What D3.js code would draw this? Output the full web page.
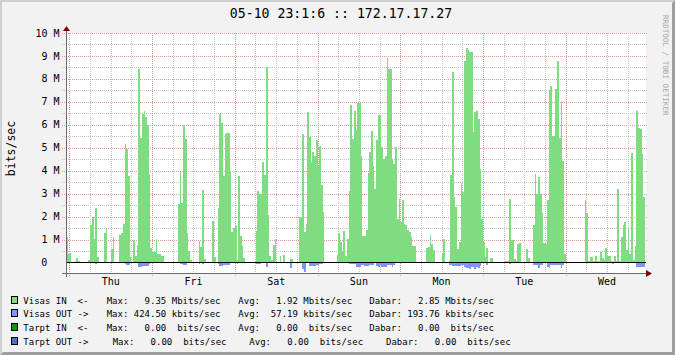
<!DOCTYPE html>
<html>
<head>
<meta charset="utf-8">
<script src="https://cdn.jsdelivr.net/npm/d3@7"></script>
<style>
  html, body { margin: 0; padding: 0; background: #f3f3f3; }
  svg { display: block; }
  text { font-family: "DejaVu Sans Mono", monospace; white-space: pre; }
</style>
</head>
<body>
<svg id="chart"></svg>
<script>
// Half-hour samples, Mbits/sec, starting Wed 23:01 one week before the title time.
const inValues = [
  1.09, 0.36, 0.41, 0, 0, 0.07, 0.2, 0.07, 0, 0, 0, 0,
  0, 0.1, 1.64, 2.0, 1.03, 2.37, 0.25, 0, 0, 0, 1.28, 1.5,
  0, 0, 0.58, 1.1, 0, 0, 0, 1.19, 1.28, 1.67, 5.16, 4.93,
  3.77, 0.23, 0, 0.97, 0.28, 0.76, 8.44, 5.42, 6.46, 6.6, 6.33, 5.98,
  3.8, 0.62, 0.44, 0.44, 1.02, 0.36, 0.36, 0.28, 0.28, 0, 0, 0,
  0, 0, 0, 0, 0, 2.54, 3.94, 2.59, 6.0, 5.37, 1.28, 0.52,
  0.09, 0, 0, 0, 0, 0.92, 0.67, 3.15, 0.15, 0, 0, 0,
  0, 1.82, 0.23, 0, 2.37, 6.46, 6.07, 3.76, 5.59, 5.64, 5.64, 3.97,
  1.32, 1.5, 1.58, 0.09, 3.75, 1.15, 0.7, 0.19, 0, 0, 0, 0.04,
  0, 0, 1.35, 3.1, 3.0, 3.0, 4.36, 3.8, 8.5, 2.08, 0.29, 0.09,
  0.75, 1.02, 0, 0, 0.26, 0, 0.32, 0, 0, 0, 0.15, 0.15,
  0, 0, 0, 2.0, 2.0, 5.59, 1.32, 1.67, 6.55, 5.46, 4.37, 4.8,
  4.63, 5.35, 4.24, 5.07, 3.36, 2.2, 0, 0, 0, 0, 0, 0,
  0, 0.32, 1.28, 0.89, 0.45, 1.37, 0.26, 1.02, 3.1, 6.86, 5.37, 6.58,
  5.77, 6.94, 6.94, 4.63, 1.15, 1.15, 1.41, 3.88, 4.8, 5.72, 4.2, 3.21,
  5.33, 6.42, 6.42, 5.03, 4.5, 4.63, 8.93, 8.42, 8.42, 4.5, 4.28, 5.03,
  1.89, 2.76, 1.76, 2.72, 1.67, 1.63, 1.41, 1.32, 1.1, 0.71, 0.71, 0,
  0, 0, 0, 0, 0, 0.62, 0.67, 1.19, 0.8, 0.54, 0, 0,
  0, 0, 0.36, 1.02, 0, 0, 0.06, 3.8, 8.3, 2.85, 2.41, 0.58,
  0.89, 3.46, 3.06, 8.77, 9.35, 9.25, 9.16, 9.16, 5.68, 6.55, 6.59, 6.25,
  4.07, 1.89, 0.89, 0.23, 0.62, 0, 0.19, 0.19, 0, 0, 0, 0,
  0, 0, 0, 0.06, 0.06, 2.76, 0.97, 0.97, 0.13, 0.06, 0.8, 0.84,
  0, 0, 0, 0.58, 0.19, 0, 0, 1.63, 3.85, 2.99, 3.72, 3.0,
  2.15, 0.85, 0.8, 2.72, 7.51, 7.68, 5.5, 5.5, 7.55, 8.77, 5.42, 6.99,
  4.42, 0.36, 0, 0, 0.04, 0, 0, 0, 0, 0, 0, 0,
  0, 2.72, 2.15, 0.06, 0.23, 0.23, 0.06, 0.28, 0.06, 0.06, 0.45, 0.19,
  0.1, 0.62, 0.28, 0.28, 0.06, 0.06, 0.28, 0.06, 3.2, 0.06, 1.1, 1.63,
  1.76, 0.54, 1.41, 0.36, 4.76, 0.1, 0.71, 6.59, 5.85, 5.81, 4.72, 2.85
];

// Outgoing traffic, Mbits/sec, drawn below zero.
const outValues = [
  0, 0, 0, 0, 0, 0, 0, 0, 0, 0, 0, 0,
  0, 0, 0, 0, 0, 0.05, 0, 0, 0, 0, 0, 0,
  0, 0, 0, 0, 0, 0, 0, 0, 0, 0, 0.05, 0.1,
  0.1, 0, 0, 0, 0, 0, 0.19, 0.19, 0.15, 0.15, 0.15, 0.15,
  0.06, 0, 0, 0, 0, 0, 0, 0, 0, 0, 0, 0,
  0, 0, 0, 0, 0, 0, 0.06, 0.06, 0.1, 0.1, 0, 0,
  0, 0, 0, 0, 0, 0.06, 0, 0.06, 0, 0, 0, 0,
  0, 0, 0, 0, 0.05, 0.15, 0.15, 0.09, 0.1, 0.1, 0.1, 0,
  0, 0, 0, 0.07, 0, 0, 0, 0, 0, 0, 0, 0,
  0, 0, 0.06, 0.06, 0.06, 0, 0, 0, 0.19, 0, 0, 0,
  0, 0, 0, 0, 0, 0, 0, 0, 0, 0, 0.23, 0,
  0, 0, 0, 0, 0, 0.28, 0.42, 0, 0, 0.15, 0.15, 0.15,
  0.15, 0.1, 0.1, 0.07, 0.07, 0, 0, 0, 0, 0, 0, 0,
  0, 0, 0, 0, 0, 0, 0, 0, 0.07, 0.07, 0.07, 0.07,
  0.22, 0.22, 0.22, 0.13, 0.13, 0.16, 0.16, 0.16, 0.13, 0.13, 0.13, 0,
  0.15, 0.19, 0.13, 0.19, 0.19, 0.19, 0.13, 0.13, 0.13, 0.22, 0.13, 0,
  0, 0, 0, 0, 0, 0, 0, 0, 0, 0, 0, 0,
  0, 0, 0, 0, 0, 0, 0, 0, 0, 0, 0, 0,
  0, 0, 0, 0, 0, 0, 0.1, 0.1, 0.15, 0.15, 0.15, 0.15,
  0.15, 0.13, 0.13, 0.22, 0.23, 0.23, 0.28, 0.19, 0.19, 0.28, 0.19, 0.25,
  0.16, 0, 0, 0, 0.1, 0, 0, 0, 0, 0, 0, 0,
  0, 0, 0, 0, 0, 0.06, 0, 0, 0, 0, 0, 0,
  0, 0, 0, 0, 0, 0, 0, 0.1, 0.13, 0.13, 0.23, 0.1,
  0.1, 0, 0, 0.19, 0.23, 0.1, 0.1, 0.1, 0.1, 0.1, 0.1, 0.23,
  0.09, 0, 0, 0, 0, 0, 0, 0, 0, 0, 0, 0,
  0, 0, 0, 0, 0, 0, 0, 0, 0, 0, 0, 0,
  0, 0, 0, 0, 0, 0.05, 0, 0, 0, 0, 0, 0,
  0, 0, 0, 0, 0, 0, 0, 0.19, 0.19, 0.19, 0.19, 0.19
];

const yTicks = [0, 1, 2, 3, 4, 5, 6, 7, 8, 9, 10];
const dayLabels = ['Thu', 'Fri', 'Sat', 'Sun', 'Mon', 'Tue', 'Wed'];

const legendNames = ['Visas IN  <-', 'Visas OUT ->', 'Tarpt IN  <-', 'Tarpt OUT ->'];
const legendMax = [9.35, 424.50, 0, 0];
const legendAvg = [1.92, 57.19, 0, 0];
const legendDabar = [2.85, 193.76, 0, 0];
const legendUnits = ['M', 'k', ' ', ' '];
const legendColors = ['#80dc80', '#8193ff', '#009c00', '#5070c8'];

const titleText = '05-10 23:1:6 :: 172.17.17.27';

// ---- layout
const width = 675, height = 355;
const plot = { left: 66, right: 645, top: 33, bottom: 273 };
const endTime = Date.UTC(2006, 4, 10, 23, 1, 6);
const startTime = endTime - 7 * 864e5;
const stepMs = 30 * 60 * 1000;

const svg = d3.select('#chart').attr('width', width).attr('height', height);

// background and 3d border
svg.append('rect').attr('width', width).attr('height', height).attr('fill', '#f2f2f2');
svg.append('path').attr('fill', '#cfcfcf')
  .attr('d', `M0,0H${width}L${width - 2},2H2V${height - 2}L0,${height}Z`);
svg.append('path').attr('fill', '#9e9e9e')
  .attr('d', `M${width},0V${height}H0L3,${height - 3}H${width - 3}V3Z`);

svg.append('rect')
  .attr('x', plot.left).attr('y', plot.top)
  .attr('width', plot.right + 1 - plot.left).attr('height', plot.bottom - plot.top)
  .attr('fill', '#ffffff');

const x = d3.scaleUtc().domain([new Date(startTime), new Date(endTime)]).range([plot.left, plot.right]);
const y = d3.scaleLinear().domain([-0.46, 10]).range([plot.bottom, plot.top]);
const crisp = v => Math.round(v) + 0.5;

// horizontal grid, minor every 0.5 M
const grid = svg.append('g').attr('shape-rendering', 'crispEdges');
d3.range(0.5, 10.01, 0.5).forEach(v => {
  const major = v % 1 === 0;
  grid.append('line')
    .attr('x1', 62).attr('x2', 647)
    .attr('y1', crisp(y(v))).attr('y2', crisp(y(v)))
    .attr('stroke', major ? '#e59a9a' : '#c4c4c4')
    .attr('stroke-dasharray', '1,1');
});

// vertical grid, every 6 hours, red at midnight
d3.utcHour.every(6).range(new Date(startTime), new Date(endTime)).forEach(t => {
  const major = t.getUTCHours() === 0;
  grid.append('line')
    .attr('x1', crisp(x(t))).attr('x2', crisp(x(t)))
    .attr('y1', plot.top).attr('y2', major ? 277 : 275)
    .attr('stroke', major ? '#e59a9a' : '#c4c4c4')
    .attr('stroke-dasharray', '1,1');
});

// traffic areas
const toPoints = values => {
  const pts = values.map((v, i) => ({ t: new Date(startTime + i * stepMs), v }));
  pts.push({ t: new Date(endTime), v: values[values.length - 1] });
  return pts;
};

const area = d3.area()
  .x(d => x(d.t))
  .y0(y(0))
  .y1(d => y(d.v))
  .curve(d3.curveStepAfter);

svg.append('path')
  .datum(toPoints(inValues))
  .attr('fill', legendColors[0])
  .attr('shape-rendering', 'crispEdges')
  .attr('d', area);

svg.append('path')
  .datum(toPoints(outValues.map(v => -v)))
  .attr('fill', legendColors[1])
  .attr('shape-rendering', 'crispEdges')
  .attr('d', area);

// zero rule
svg.append('line')
  .attr('x1', plot.left).attr('x2', plot.right + 1)
  .attr('y1', crisp(y(0))).attr('y2', crisp(y(0)))
  .attr('stroke', '#000').attr('shape-rendering', 'crispEdges');

// axes
const axisColor = '#6a6a6a';
svg.append('line')
  .attr('x1', 62).attr('x2', 648)
  .attr('y1', crisp(plot.bottom)).attr('y2', crisp(plot.bottom))
  .attr('stroke', axisColor).attr('shape-rendering', 'crispEdges');
svg.append('line')
  .attr('x1', crisp(plot.left)).attr('x2', crisp(plot.left))
  .attr('y1', 277).attr('y2', 29)
  .attr('stroke', axisColor).attr('shape-rendering', 'crispEdges');
svg.append('path').attr('fill', '#7f0000')
  .attr('d', `M${plot.left + 0.5 - 3.5},31L${plot.left + 0.5 + 3.5},31L${plot.left + 0.5},26Z`);
svg.append('path').attr('fill', '#7f0000')
  .attr('d', `M646,270L646,277L652,273.5Z`);

// y labels
svg.append('g').selectAll('text')
  .data(yTicks)
  .join('text')
  .attr('x', d => d === 0 ? 47.3 : 59.5)
  .attr('y', d => y(d))
  .attr('dy', '0.36em')
  .attr('text-anchor', 'end')
  .attr('font-size', 10)
  .text(d => d === 0 ? '0' : `${d} M`);

svg.append('text')
  .attr('transform', 'translate(14.5,148.5) rotate(-90)')
  .attr('text-anchor', 'middle')
  .attr('font-size', 11.5)
  .text('bits/sec');

// day labels at noon
svg.append('g').selectAll('text')
  .data(dayLabels)
  .join('text')
  .attr('x', (d, i) => x(new Date(Date.UTC(2006, 4, 4 + i, 12))))
  .attr('y', 285)
  .attr('text-anchor', 'middle')
  .attr('font-size', 10)
  .text(d => d);

// title and watermark
svg.append('text')
  .attr('x', 341).attr('y', 18.3)
  .attr('text-anchor', 'middle')
  .attr('font-size', 13.2)
  .text(titleText);

svg.append('text')
  .attr('transform', 'translate(663,15) rotate(90)')
  .attr('font-size', 7.6)
  .attr('fill', '#a8a8a8')
  .text('RRDTOOL / TOBI OETIKER');

// legend
const fmt = (label, v, unit) => label + v.toFixed(2).padStart(7) + ' ' + unit + 'bits/sec';
const legendCols = [[106.7, 238.3, 369.3], [106.7, 238.3, 369.3], [106.7, 238.3, 369.3], [112.7, 249.3, 386]];
const legendRowY = i => 303.5 + i * 13.85;

const legend = svg.append('g').attr('font-size', 9);
legendNames.forEach((name, i) => {
  const by = legendRowY(i);
  legend.append('rect')
    .attr('x', 11.5).attr('y', by - 7.5)
    .attr('width', 6).attr('height', 7)
    .attr('fill', legendColors[i])
    .attr('stroke', '#000').attr('stroke-width', 1)
    .attr('shape-rendering', 'crispEdges');
  legend.append('text').attr('x', 23.3).attr('y', by).text(name);
  legend.append('text').attr('x', legendCols[i][0]).attr('y', by).text(fmt('Max:', legendMax[i], legendUnits[i]));
  legend.append('text').attr('x', legendCols[i][1]).attr('y', by).text(fmt('Avg:', legendAvg[i], legendUnits[i]));
  legend.append('text').attr('x', legendCols[i][2]).attr('y', by).text(fmt('Dabar:', legendDabar[i], legendUnits[i]));
});
</script>
</body>
</html>
